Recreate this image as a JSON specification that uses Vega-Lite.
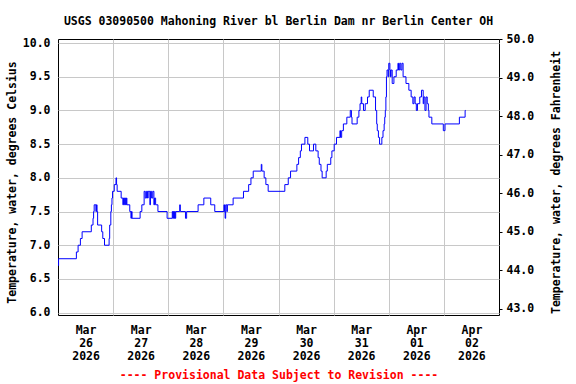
{
  "$schema": "https://vega.github.io/schema/vega-lite/v6.json",
  "width": 441,
  "height": 276,
  "autosize": "none",
  "padding": {"left": 58, "top": 39, "right": 77, "bottom": 69},
  "background": "white",
  "title": {
    "text": "USGS 03090500 Mahoning River bl Berlin Dam nr Berlin Center OH",
    "anchor": "middle",
    "frame": "group",
    "font": "DejaVu Sans Mono",
    "fontSize": 11.5,
    "fontWeight": "bold",
    "color": "black",
    "offset": 6
  },
  "config": {
    "view": {"stroke": "black", "strokeWidth": 1},
    "axis": {
      "labelFont": "DejaVu Sans Mono",
      "labelFontSize": 11.5,
      "labelFontWeight": "bold",
      "labelColor": "black",
      "titleFont": "DejaVu Sans Mono",
      "titleFontSize": 11.5,
      "titleFontWeight": "bold",
      "titleColor": "black",
      "gridColor": "#c8c8c8",
      "gridWidth": 1
    }
  },
  "layer": [
    {
      "data": {
        "values": [
          {"t": "2026-03-26T00:00:00Z", "c": 6.7},
          {"t": "2026-03-26T00:15:00Z", "c": 6.8},
          {"t": "2026-03-26T08:00:00Z", "c": 6.9},
          {"t": "2026-03-26T08:45:00Z", "c": 7.0},
          {"t": "2026-03-26T09:45:00Z", "c": 7.1},
          {"t": "2026-03-26T10:30:00Z", "c": 7.2},
          {"t": "2026-03-26T14:30:00Z", "c": 7.3},
          {"t": "2026-03-26T15:15:00Z", "c": 7.4},
          {"t": "2026-03-26T15:30:00Z", "c": 7.5},
          {"t": "2026-03-26T15:45:00Z", "c": 7.6},
          {"t": "2026-03-26T16:30:00Z", "c": 7.5},
          {"t": "2026-03-26T16:45:00Z", "c": 7.6},
          {"t": "2026-03-26T17:00:00Z", "c": 7.5},
          {"t": "2026-03-26T17:15:00Z", "c": 7.3},
          {"t": "2026-03-26T19:00:00Z", "c": 7.2},
          {"t": "2026-03-26T19:30:00Z", "c": 7.1},
          {"t": "2026-03-26T20:15:00Z", "c": 7.0},
          {"t": "2026-03-26T22:15:00Z", "c": 7.1},
          {"t": "2026-03-26T22:30:00Z", "c": 7.3},
          {"t": "2026-03-26T23:00:00Z", "c": 7.5},
          {"t": "2026-03-26T23:15:00Z", "c": 7.6},
          {"t": "2026-03-26T23:30:00Z", "c": 7.7},
          {"t": "2026-03-26T23:45:00Z", "c": 7.8},
          {"t": "2026-03-27T00:30:00Z", "c": 7.9},
          {"t": "2026-03-27T01:15:00Z", "c": 8.0},
          {"t": "2026-03-27T01:30:00Z", "c": 7.9},
          {"t": "2026-03-27T01:45:00Z", "c": 7.8},
          {"t": "2026-03-27T03:30:00Z", "c": 7.7},
          {"t": "2026-03-27T04:15:00Z", "c": 7.6},
          {"t": "2026-03-27T04:30:00Z", "c": 7.7},
          {"t": "2026-03-27T05:00:00Z", "c": 7.6},
          {"t": "2026-03-27T05:15:00Z", "c": 7.7},
          {"t": "2026-03-27T05:30:00Z", "c": 7.6},
          {"t": "2026-03-27T05:45:00Z", "c": 7.7},
          {"t": "2026-03-27T06:00:00Z", "c": 7.6},
          {"t": "2026-03-27T07:15:00Z", "c": 7.5},
          {"t": "2026-03-27T07:45:00Z", "c": 7.4},
          {"t": "2026-03-27T08:00:00Z", "c": 7.5},
          {"t": "2026-03-27T08:15:00Z", "c": 7.4},
          {"t": "2026-03-27T11:45:00Z", "c": 7.5},
          {"t": "2026-03-27T12:30:00Z", "c": 7.6},
          {"t": "2026-03-27T13:30:00Z", "c": 7.8},
          {"t": "2026-03-27T14:00:00Z", "c": 7.7},
          {"t": "2026-03-27T14:30:00Z", "c": 7.8},
          {"t": "2026-03-27T15:00:00Z", "c": 7.7},
          {"t": "2026-03-27T15:15:00Z", "c": 7.8},
          {"t": "2026-03-27T16:00:00Z", "c": 7.6},
          {"t": "2026-03-27T16:15:00Z", "c": 7.8},
          {"t": "2026-03-27T16:45:00Z", "c": 7.7},
          {"t": "2026-03-27T17:15:00Z", "c": 7.8},
          {"t": "2026-03-27T17:45:00Z", "c": 7.6},
          {"t": "2026-03-27T18:00:00Z", "c": 7.7},
          {"t": "2026-03-27T18:30:00Z", "c": 7.6},
          {"t": "2026-03-27T19:30:00Z", "c": 7.5},
          {"t": "2026-03-27T23:30:00Z", "c": 7.4},
          {"t": "2026-03-28T01:45:00Z", "c": 7.5},
          {"t": "2026-03-28T02:00:00Z", "c": 7.4},
          {"t": "2026-03-28T02:15:00Z", "c": 7.5},
          {"t": "2026-03-28T02:30:00Z", "c": 7.4},
          {"t": "2026-03-28T02:45:00Z", "c": 7.5},
          {"t": "2026-03-28T03:00:00Z", "c": 7.4},
          {"t": "2026-03-28T03:15:00Z", "c": 7.5},
          {"t": "2026-03-28T05:00:00Z", "c": 7.6},
          {"t": "2026-03-28T05:15:00Z", "c": 7.5},
          {"t": "2026-03-28T07:30:00Z", "c": 7.4},
          {"t": "2026-03-28T08:00:00Z", "c": 7.5},
          {"t": "2026-03-28T13:00:00Z", "c": 7.6},
          {"t": "2026-03-28T15:30:00Z", "c": 7.7},
          {"t": "2026-03-28T18:30:00Z", "c": 7.6},
          {"t": "2026-03-28T20:15:00Z", "c": 7.5},
          {"t": "2026-03-29T00:15:00Z", "c": 7.6},
          {"t": "2026-03-29T00:30:00Z", "c": 7.5},
          {"t": "2026-03-29T00:45:00Z", "c": 7.4},
          {"t": "2026-03-29T01:00:00Z", "c": 7.6},
          {"t": "2026-03-29T01:30:00Z", "c": 7.5},
          {"t": "2026-03-29T01:45:00Z", "c": 7.6},
          {"t": "2026-03-29T04:15:00Z", "c": 7.7},
          {"t": "2026-03-29T08:45:00Z", "c": 7.8},
          {"t": "2026-03-29T11:00:00Z", "c": 7.9},
          {"t": "2026-03-29T12:00:00Z", "c": 8.0},
          {"t": "2026-03-29T13:00:00Z", "c": 8.1},
          {"t": "2026-03-29T16:30:00Z", "c": 8.2},
          {"t": "2026-03-29T16:45:00Z", "c": 8.1},
          {"t": "2026-03-29T17:45:00Z", "c": 8.0},
          {"t": "2026-03-29T18:30:00Z", "c": 7.9},
          {"t": "2026-03-29T19:30:00Z", "c": 7.8},
          {"t": "2026-03-30T02:45:00Z", "c": 7.9},
          {"t": "2026-03-30T04:15:00Z", "c": 8.0},
          {"t": "2026-03-30T05:15:00Z", "c": 8.1},
          {"t": "2026-03-30T08:00:00Z", "c": 8.2},
          {"t": "2026-03-30T08:45:00Z", "c": 8.3},
          {"t": "2026-03-30T09:30:00Z", "c": 8.4},
          {"t": "2026-03-30T10:00:00Z", "c": 8.5},
          {"t": "2026-03-30T11:30:00Z", "c": 8.6},
          {"t": "2026-03-30T12:45:00Z", "c": 8.5},
          {"t": "2026-03-30T13:30:00Z", "c": 8.4},
          {"t": "2026-03-30T15:15:00Z", "c": 8.5},
          {"t": "2026-03-30T16:15:00Z", "c": 8.4},
          {"t": "2026-03-30T17:15:00Z", "c": 8.3},
          {"t": "2026-03-30T17:45:00Z", "c": 8.2},
          {"t": "2026-03-30T18:30:00Z", "c": 8.1},
          {"t": "2026-03-30T19:00:00Z", "c": 8.0},
          {"t": "2026-03-30T20:45:00Z", "c": 8.1},
          {"t": "2026-03-30T21:15:00Z", "c": 8.2},
          {"t": "2026-03-30T22:45:00Z", "c": 8.3},
          {"t": "2026-03-30T23:15:00Z", "c": 8.4},
          {"t": "2026-03-31T00:15:00Z", "c": 8.5},
          {"t": "2026-03-31T01:15:00Z", "c": 8.6},
          {"t": "2026-03-31T02:45:00Z", "c": 8.7},
          {"t": "2026-03-31T03:00:00Z", "c": 8.6},
          {"t": "2026-03-31T03:30:00Z", "c": 8.7},
          {"t": "2026-03-31T04:15:00Z", "c": 8.8},
          {"t": "2026-03-31T05:45:00Z", "c": 8.9},
          {"t": "2026-03-31T07:15:00Z", "c": 9.0},
          {"t": "2026-03-31T07:45:00Z", "c": 8.9},
          {"t": "2026-03-31T08:00:00Z", "c": 8.8},
          {"t": "2026-03-31T10:15:00Z", "c": 8.9},
          {"t": "2026-03-31T11:00:00Z", "c": 9.0},
          {"t": "2026-03-31T11:30:00Z", "c": 9.1},
          {"t": "2026-03-31T12:00:00Z", "c": 9.2},
          {"t": "2026-03-31T12:15:00Z", "c": 9.1},
          {"t": "2026-03-31T13:00:00Z", "c": 9.0},
          {"t": "2026-03-31T13:45:00Z", "c": 9.1},
          {"t": "2026-03-31T14:45:00Z", "c": 9.2},
          {"t": "2026-03-31T15:30:00Z", "c": 9.3},
          {"t": "2026-03-31T17:15:00Z", "c": 9.2},
          {"t": "2026-03-31T18:15:00Z", "c": 9.0},
          {"t": "2026-03-31T18:45:00Z", "c": 8.8},
          {"t": "2026-03-31T19:00:00Z", "c": 8.7},
          {"t": "2026-03-31T19:30:00Z", "c": 8.6},
          {"t": "2026-03-31T20:00:00Z", "c": 8.5},
          {"t": "2026-03-31T21:00:00Z", "c": 8.6},
          {"t": "2026-03-31T21:30:00Z", "c": 8.7},
          {"t": "2026-03-31T22:00:00Z", "c": 8.8},
          {"t": "2026-03-31T22:15:00Z", "c": 8.9},
          {"t": "2026-03-31T22:30:00Z", "c": 9.0},
          {"t": "2026-03-31T22:45:00Z", "c": 9.2},
          {"t": "2026-03-31T23:00:00Z", "c": 9.5},
          {"t": "2026-03-31T23:15:00Z", "c": 9.6},
          {"t": "2026-03-31T23:45:00Z", "c": 9.5},
          {"t": "2026-04-01T00:00:00Z", "c": 9.7},
          {"t": "2026-04-01T00:30:00Z", "c": 9.6},
          {"t": "2026-04-01T00:45:00Z", "c": 9.5},
          {"t": "2026-04-01T01:00:00Z", "c": 9.6},
          {"t": "2026-04-01T01:30:00Z", "c": 9.4},
          {"t": "2026-04-01T02:15:00Z", "c": 9.5},
          {"t": "2026-04-01T03:15:00Z", "c": 9.6},
          {"t": "2026-04-01T04:00:00Z", "c": 9.7},
          {"t": "2026-04-01T04:15:00Z", "c": 9.6},
          {"t": "2026-04-01T04:45:00Z", "c": 9.7},
          {"t": "2026-04-01T05:15:00Z", "c": 9.6},
          {"t": "2026-04-01T05:45:00Z", "c": 9.7},
          {"t": "2026-04-01T06:15:00Z", "c": 9.5},
          {"t": "2026-04-01T07:30:00Z", "c": 9.4},
          {"t": "2026-04-01T08:45:00Z", "c": 9.3},
          {"t": "2026-04-01T09:45:00Z", "c": 9.2},
          {"t": "2026-04-01T10:30:00Z", "c": 9.1},
          {"t": "2026-04-01T11:00:00Z", "c": 9.2},
          {"t": "2026-04-01T11:30:00Z", "c": 9.1},
          {"t": "2026-04-01T12:00:00Z", "c": 9.0},
          {"t": "2026-04-01T12:30:00Z", "c": 9.1},
          {"t": "2026-04-01T13:30:00Z", "c": 9.2},
          {"t": "2026-04-01T14:15:00Z", "c": 9.3},
          {"t": "2026-04-01T15:00:00Z", "c": 9.1},
          {"t": "2026-04-01T15:15:00Z", "c": 9.2},
          {"t": "2026-04-01T15:45:00Z", "c": 9.0},
          {"t": "2026-04-01T16:15:00Z", "c": 9.2},
          {"t": "2026-04-01T16:45:00Z", "c": 9.1},
          {"t": "2026-04-01T17:15:00Z", "c": 9.0},
          {"t": "2026-04-01T17:30:00Z", "c": 8.9},
          {"t": "2026-04-01T18:45:00Z", "c": 8.8},
          {"t": "2026-04-01T23:45:00Z", "c": 8.7},
          {"t": "2026-04-02T00:30:00Z", "c": 8.8},
          {"t": "2026-04-02T06:45:00Z", "c": 8.9},
          {"t": "2026-04-02T09:15:00Z", "c": 9.0},
          {"t": "2026-04-02T09:30:00Z", "c": 9.0}
        ]
      },
      "mark": {"type": "line", "interpolate": "step-after", "color": "#0000ff", "strokeWidth": 1},
      "encoding": {
        "x": {
          "field": "t",
          "type": "temporal",
          "scale": {
            "type": "utc",
            "domain": [
              {"year": 2026, "month": 3, "date": 26, "utc": true},
              {"year": 2026, "month": 4, "date": 3, "utc": true}
            ]
          },
          "axis": {
            "values": [
              {"year": 2026, "month": 3, "date": 26, "utc": true},
              {"year": 2026, "month": 3, "date": 27, "utc": true},
              {"year": 2026, "month": 3, "date": 28, "utc": true},
              {"year": 2026, "month": 3, "date": 29, "utc": true},
              {"year": 2026, "month": 3, "date": 30, "utc": true},
              {"year": 2026, "month": 3, "date": 31, "utc": true},
              {"year": 2026, "month": 4, "date": 1, "utc": true},
              {"year": 2026, "month": 4, "date": 2, "utc": true}
            ],
            "labelExpr": "[utcFormat(datum.value, '%b'), utcFormat(datum.value, '%d'), utcFormat(datum.value, '%Y')]",
            "labelOffset": 27.56,
            "labelAlign": "center",
            "labelBaseline": "top",
            "labelPadding": 9.5,
            "labelLineHeight": 12.8,
            "labelOverlap": false,
            "labelFlush": false,
            "grid": true,
            "gridOpacity": {"condition": {"test": "datum.value < 1774490000000", "value": 0}, "value": 1},
            "ticks": false,
            "domain": false,
            "title": "---- Provisional Data Subject to Revision ----",
            "titleColor": "#ff0000",
            "titleX": 220.5,
            "titleY": 60,
            "titleAlign": "center",
            "titleBaseline": "middle"
          }
        },
        "y": {
          "field": "c",
          "type": "quantitative",
          "scale": {"domain": [5.965, 10.06], "nice": false, "zero": false},
          "axis": {
            "values": [6, 6.5, 7, 7.5, 8, 8.5, 9, 9.5, 10],
            "format": ".1f",
            "grid": true,
            "ticks": false,
            "domain": false,
            "labelPadding": 8,
            "title": "Temperature, water, degrees Celsius",
            "titleAngle": 270,
            "titleX": -46,
            "titleY": 143,
            "titleAlign": "center",
            "titleBaseline": "middle"
          }
        }
      }
    },
    {
      "data": {"values": [{"f": 43}, {"f": 50}]},
      "mark": {"type": "point", "opacity": 0},
      "encoding": {
        "y": {
          "field": "f",
          "type": "quantitative",
          "scale": {"domain": [42.84, 50.0], "nice": false, "zero": false},
          "axis": {
            "orient": "right",
            "values": [43, 44, 45, 46, 47, 48, 49, 50],
            "format": ".1f",
            "grid": false,
            "ticks": true,
            "tickSize": 3,
            "tickColor": "black",
            "domain": false,
            "labelPadding": 4,
            "title": "Temperature, water, degrees Fahrenheit",
            "titleAngle": 270,
            "titleX": 57,
            "titleY": 143,
            "titleAlign": "center",
            "titleBaseline": "middle"
          }
        }
      }
    }
  ],
  "resolve": {"scale": {"y": "independent"}, "axis": {"y": "independent"}}
}
